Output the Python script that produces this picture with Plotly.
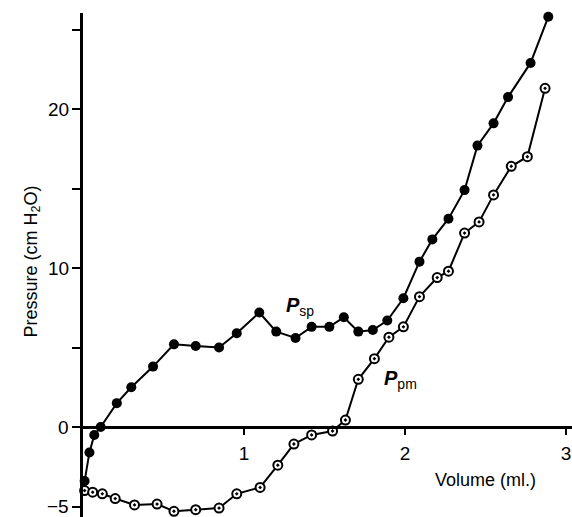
import plotly.graph_objects as go

# Psp (filled circles)
x_sp = [0.01, 0.04, 0.07, 0.11, 0.21, 0.30, 0.435, 0.565, 0.70, 0.845, 0.955, 1.095,
        1.20, 1.32, 1.42, 1.53, 1.62, 1.71, 1.80, 1.89, 1.99, 2.09, 2.17, 2.27, 2.37,
        2.45, 2.55, 2.64, 2.78, 2.89]
y_sp = [-3.4, -1.6, -0.5, 0.0, 1.5, 2.5, 3.8, 5.2, 5.1, 5.0, 5.9, 7.2,
        6.0, 5.6, 6.3, 6.3, 6.9, 6.0, 6.1, 6.7, 8.1, 10.4, 11.8, 13.1, 14.9,
        17.7, 19.1, 20.75, 22.9, 25.8]

# Ppm (open circles with dot)
x_pm = [0.01, 0.06, 0.12, 0.20, 0.32, 0.46, 0.565, 0.70, 0.845, 0.955, 1.10, 1.21,
        1.31, 1.42, 1.55, 1.63, 1.71, 1.81, 1.90, 1.99, 2.09, 2.20, 2.27, 2.37, 2.46,
        2.55, 2.66, 2.76, 2.87]
y_pm = [-4.0, -4.1, -4.2, -4.5, -4.9, -4.85, -5.3, -5.2, -5.1, -4.2, -3.8, -2.4,
        -1.07, -0.5, -0.25, 0.44, 3.0, 4.3, 5.65, 6.3, 8.2, 9.4, 9.8, 12.2, 12.9,
        14.6, 16.4, 17.0, 21.3]

x_ticks = [1, 2, 3]
x_tick_labels = ["1", "2", "3"]
y_ticks = [-5, 0, 5, 10, 15, 20, 25]
y_tick_labels = ["\u22125", "0", "", "10", "", "20", ""]

FONT = "Liberation Sans, Arial, Helvetica, sans-serif"

fig = go.Figure()
fig.add_trace(go.Scatter(
    x=x_sp, y=y_sp, mode="lines+markers", cliponaxis=False,
    line=dict(color="black", width=2),
    marker=dict(symbol="circle", size=10, color="black"),
    showlegend=False,
))
fig.add_trace(go.Scatter(
    x=x_pm, y=y_pm, mode="lines+markers", cliponaxis=False,
    line=dict(color="black", width=2),
    marker=dict(symbol="circle-dot", size=9, color="white",
                line=dict(color="black", width=2)),
    showlegend=False,
))

ymin, ymax = -5.66, 26.04
annotations = [
    dict(x=2.497, y=-3.33, xref="x", yref="y", text="Volume (ml.)",
         showarrow=False, font=dict(family=FONT, size=18, color="black")),
    dict(x=(18 - 83) / 489, y=(517 - 262) / 504, xref="paper", yref="paper",
         text="Pressure (cm H<sub>2</sub>O)", textangle=-90,
         showarrow=False, font=dict(family=FONT, size=18, color="black")),
    dict(x=1.348, y=7.55, xref="x", yref="y",
         text="<b><i>P</i></b><sub>sp</sub>",
         showarrow=False, font=dict(family=FONT, size=20, color="black")),
    dict(x=1.975, y=2.96, xref="x", yref="y",
         text="<b><i>P</i></b><sub>pm</sub>",
         showarrow=False, font=dict(family=FONT, size=20, color="black")),
]
for v, t in zip(y_ticks, y_tick_labels):
    if t:
        annotations.append(dict(
            x=0, y=v, xref="paper", yref="y", text=t, showarrow=False,
            xanchor="right", yanchor="middle", xshift=-12,
            font=dict(family=FONT, size=19, color="black")))

fig.update_layout(
    width=572, height=517,
    margin=dict(l=83, r=0, t=13, b=0),
    paper_bgcolor="white", plot_bgcolor="white",
    font=dict(family=FONT, size=19, color="black"),
    xaxis=dict(
        range=[0, 489 / 161], anchor="free", position=(0 - ymin) / (ymax - ymin),
        showline=True, linecolor="black", linewidth=2.5,
        showgrid=False, zeroline=False,
        tickmode="array", tickvals=x_ticks, ticktext=x_tick_labels,
        ticks="outside", ticklen=6, tickwidth=2, tickcolor="black",
        ticklabelstandoff=2,
        tickfont=dict(family=FONT, size=19, color="black"),
    ),
    yaxis=dict(
        range=[ymin, ymax],
        showline=True, linecolor="black", linewidth=2.5,
        showgrid=False, zeroline=False,
        tickmode="array", tickvals=y_ticks, showticklabels=False,
        ticks="outside", ticklen=8, tickwidth=2, tickcolor="black",
    ),
    annotations=annotations,
)

fig.write_html("out.html")
